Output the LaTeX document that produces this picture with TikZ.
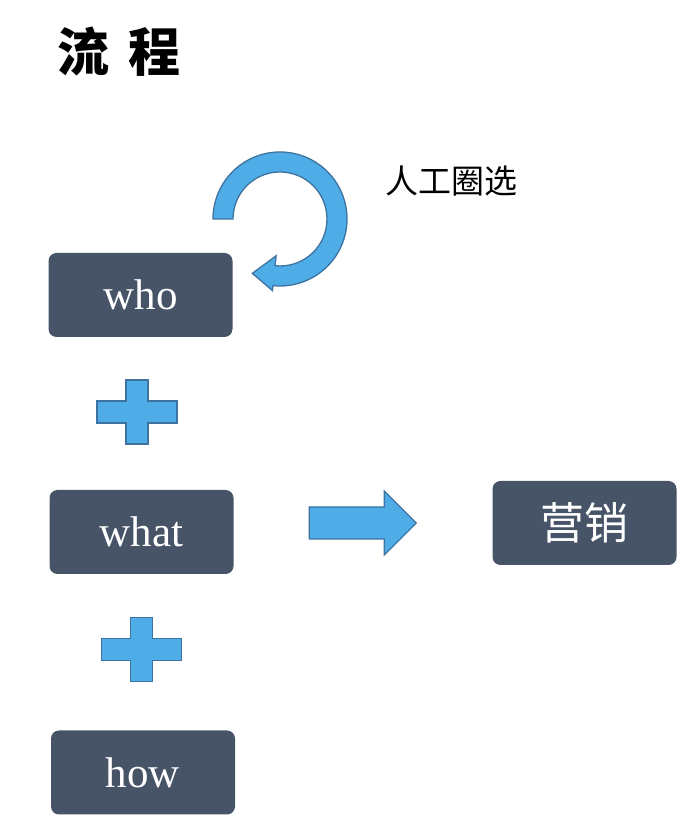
\documentclass[tikz,border=0pt]{standalone}
\usepackage{fontspec}
\setmainfont{Liberation Serif}
\newfontfamily\cjk{Noto Sans CJK SC}
\usetikzlibrary{calc}
\definecolor{slate}{RGB}{71,84,104}
\definecolor{sky}{RGB}{78,173,231}
\definecolor{skyline}{RGB}{62,114,160}

\begin{document}
\begin{tikzpicture}[x=1pt, y=1pt]

    \tikzstyle{box}=[rounded corners=8pt, fill=slate, text=white, minimum width=184pt, minimum height=84pt, inner sep=0pt];
    \tikzstyle{shp}=[fill=sky, draw=skyline, line width=1.3pt, line join=miter];

    \useasboundingbox (0,0) rectangle (692,832);

    \node (title) at (119,780) {\cjk\bfseries\fontsize{52}{60}\selectfont 流\hspace{20pt}程};

    \node (who) at (140.5,537) [box] {\fontsize{43}{48}\selectfont who};
    \node (what) at ($(who)+(1,-237)$) [box] {\fontsize{43}{48}\selectfont what};
    \node (how) at ($(what)+(1.5,-240.5)$) [box] {\fontsize{43}{48}\selectfont how};
    \node (mk) at ($(what)+(443,9)$) [box] {\cjk\fontsize{44}{50}\selectfont 营销};

    \node (note) at (451.5,651) {\cjk\fontsize{33}{38}\selectfont 人工圈选};

    \coordinate (c) at (280,613);
    \draw[shp] ($(c)+(180:67)$) arc[start angle=180, end angle=-96, radius=67]
        -- ($(c)+(-96:72)$) -- ($(c)+(-117:61)$) -- ($(c)+(-96:37)$) -- ($(c)+(-96:47)$)
        arc[start angle=-96, end angle=180, radius=47] -- cycle;

    \coordinate (p1) at ($(who)!0.5!(what)+(-4,1.5)$);
    \coordinate (p2) at ($(what)!0.5!(how)+(-0.5,3)$);
    \foreach \p in {p1,p2}
        \draw[shp] ($(\p)+(-11,32)$) -- ++(22,0) -- ++(0,-21) -- ++(29,0) -- ++(0,-22) -- ++(-29,0)
            -- ++(0,-21) -- ++(-22,0) -- ++(0,21) -- ++(-29,0) -- ++(0,22) -- ++(29,0) -- cycle;

    \coordinate (a) at ($(what.east)+(75.5,9)$);
    \draw[shp] ($(a)+(0,16)$) -- ++(75,0) -- ++(0,16) -- ++(32,-32) -- ++(-32,-32) -- ++(0,16) -- ++(-75,0) -- cycle;

\end{tikzpicture}
\end{document}
